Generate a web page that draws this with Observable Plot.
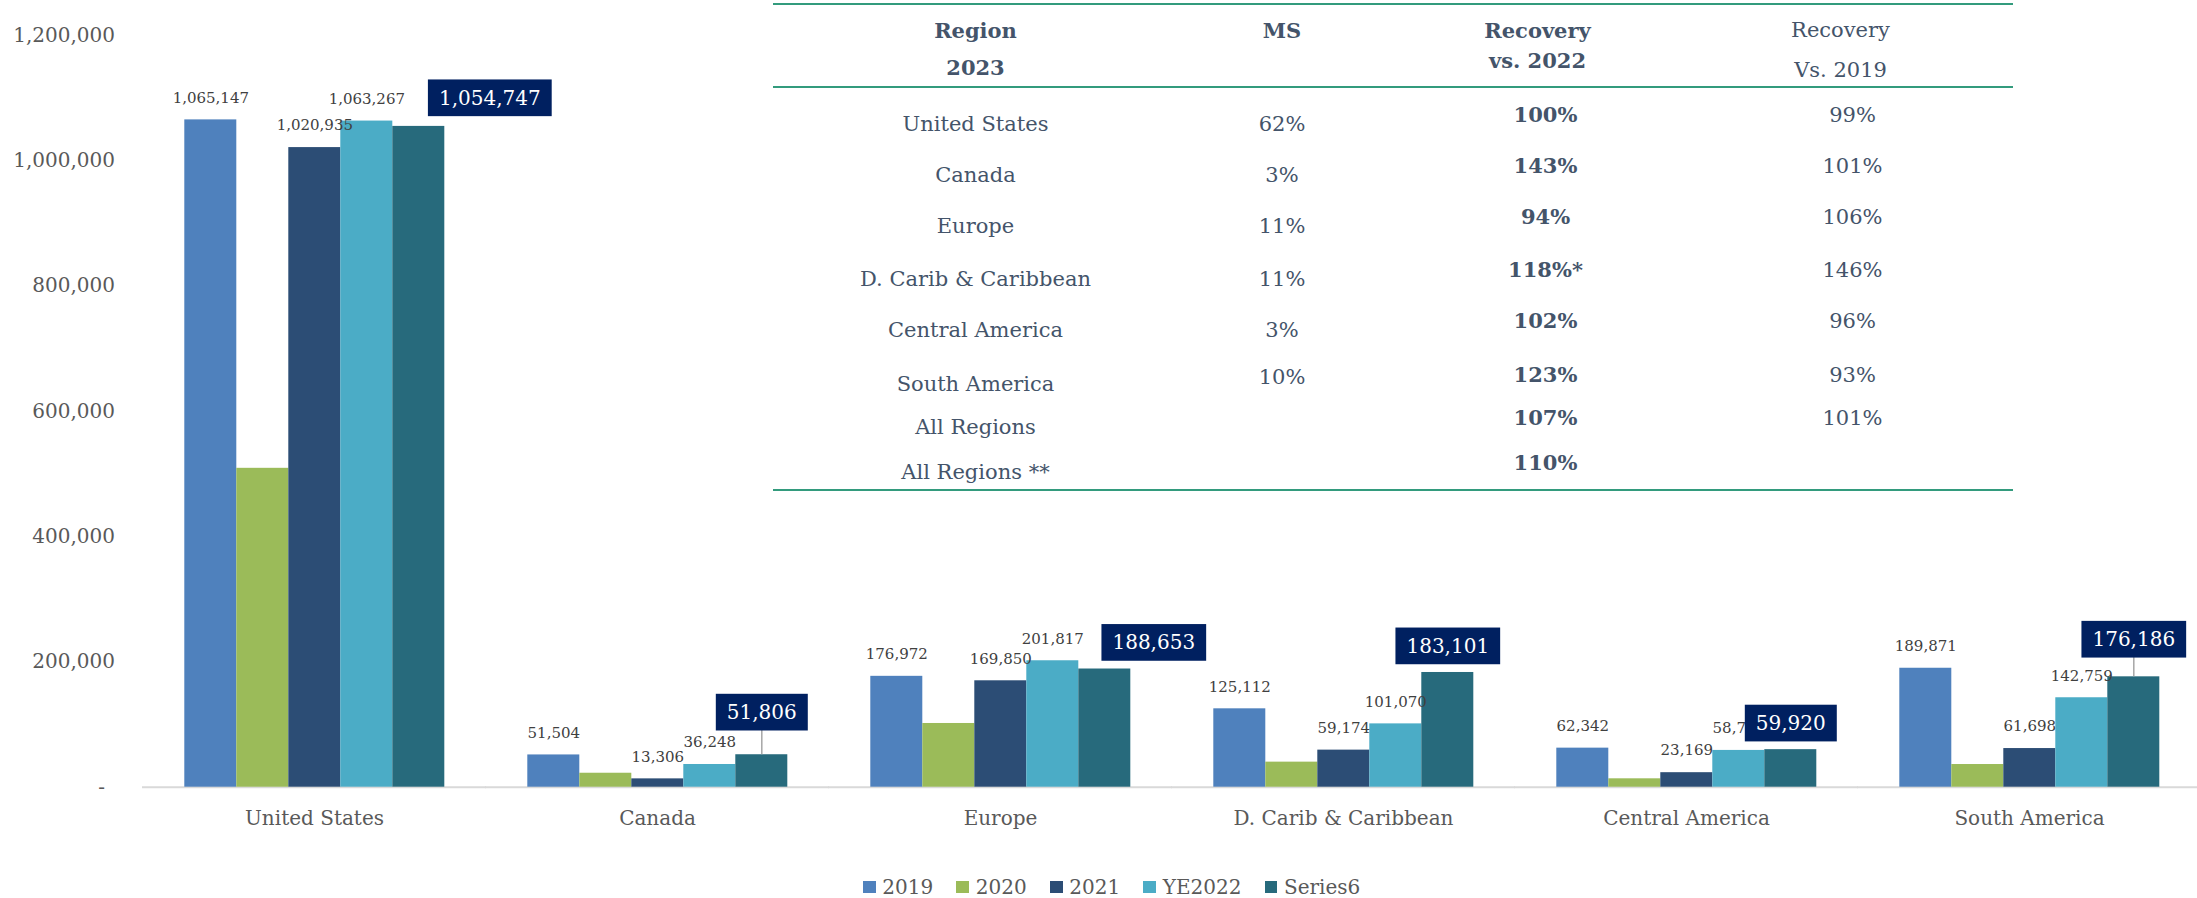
<!DOCTYPE html>
<html>
<head>
<meta charset="utf-8">
<script src="https://cdn.jsdelivr.net/npm/d3@7"></script>
<script src="https://cdn.jsdelivr.net/npm/@observablehq/plot@0.6"></script>
<style>
html,body{margin:0;padding:0;background:#fff;overflow:hidden;}
#wrap{position:relative;width:2197px;height:898px;overflow:hidden;background:#fff;}
#chart svg{display:block;}
#tbl{position:absolute;left:773px;top:3px;}
#tbl table{border-collapse:collapse;table-layout:fixed;width:1240px;font-family:'DejaVu Serif',serif;font-size:21px;color:#44546a;}
#tbl th{font-weight:bold;line-height:37px;padding:7px 0 0 0;vertical-align:top;text-align:center;border-top:2.4px solid #339b7d;border-bottom:2.4px solid #339b7d;}
#tbl th.norm{font-weight:normal;}
#tbl td{padding:0;vertical-align:top;line-height:30px;text-align:center;white-space:nowrap;}
#tbl tr:last-child td{border-bottom:2.4px solid #339b7d;}
#tbl .c3{padding-left:16px;padding-right:9px;font-weight:bold;}
#tbl .c4{padding-left:24px;padding-right:30px;}
#tbl th.c3{padding-left:0;}
#tbl th.c4{padding-left:0;}
#tbl .up{position:relative;top:-9px;}
#tbl .up7{position:relative;top:-7px;}
#tbl .dn3{position:relative;top:3px;}
#legend{display:flex;align-items:center;height:32px;margin-top:5px;padding-left:863px;font-family:'DejaVu Serif',serif;font-size:20px;color:#595959;}
#legend .sw{display:inline-block;width:12.7px;height:12.7px;margin-right:6.6px;}
#legend .it{display:flex;align-items:center;margin-right:23.3px;}
</style>
</head>
<body>
<div id="wrap">
  <div id="chart"></div>
  <div id="legend"></div>
  <div id="tbl"></div>
</div>
<script>
// ---------- chart data ----------
const regions = ["United States", "Canada", "Europe", "D. Carib & Caribbean", "Central America", "South America"];
const seriesNames = ["2019", "2020", "2021", "YE2022", "Series6"];
const v2019 = [1065147, 51504, 176972, 125112, 62342, 189871];
const v2020 = [509000, 22300, 101700, 40000, 13400, 36200];
const v2021 = [1020935, 13306, 169850, 59174, 23169, 61698];
const vYE2022 = [1063267, 36248, 201817, 101070, 58700, 142759];
const vSeries6 = [1054747, 51806, 188653, 183101, 59920, 176186];
const seriesColors = ["#4f81bd", "#9bbb59", "#2c4d75", "#4bacc6", "#276a7c"];
const yTicks = [0, 200000, 400000, 600000, 800000, 1000000, 1200000];
const labeledSeries = ["2019", "2021", "YE2022"];
const calloutSeries = "Series6";

// ---------- table data ----------
const tableHeader = [["Region", "2023"], ["MS", ""], ["Recovery", "vs. 2022"], ["Recovery", "Vs. 2019"]];
const tableRegions = ["United States", "Canada", "Europe", "D. Carib & Caribbean", "Central America", "South America", "All Regions", "All Regions **"];
const msShare = ["62%", "3%", "11%", "11%", "3%", "10%", "", ""];
const recVs2022 = ["100%", "143%", "94%", "118%*", "102%", "123%", "107%", "110%"];
const recVs2019 = ["99%", "101%", "106%", "146%", "96%", "93%", "101%", ""];

// ---------- layout (annotation nudges, row heights) ----------
const calloutDx = [71, 0, 49, 0, 0, 0];
const calloutDy = [-28, -42, -26, -26, -26, -37];
const calloutLeader = [false, true, false, false, false, true];
const rowHeights = [51, 51, 53, 51, 54, 43, 45, 32];

const seriesValues = [v2019, v2020, v2021, vYE2022, vSeries6];
const rows = regions.flatMap((r, i) => seriesNames.map((s, j) => ({region: r, series: s, value: seriesValues[j][i]})));
const fmt = d3.format(",");

const marks = [
  Plot.ruleY([0], {stroke: "#d9d9d9", strokeWidth: 2, insetLeft: -40, insetRight: -40}),
  Plot.barY(rows, {fx: "region", x: "series", y: "value", fill: "series", insetLeft: 0, insetRight: 0}),
  Plot.text(rows.filter(d => labeledSeries.includes(d.series)), {
    fx: "region", x: "series", y: "value", text: d => fmt(d.value),
    dy: -22, fontSize: 15, fill: "#404040", lineAnchor: "middle"
  })
];
regions.forEach((r, i) => {
  const d = rows.filter(e => e.region === r && e.series === calloutSeries);
  if (calloutLeader[i]) {
    marks.push(Plot.ruleX(d, {fx: "region", x: "series", y1: "value", y2: "value", insetTop: 0, insetBottom: -calloutDy[i], stroke: "#a6a6a6", strokeWidth: 1.5}));
  }
  marks.push(Plot.text(d, {
    fx: "region", x: "series", y: "value", text: e => fmt(e.value),
    dx: calloutDx[i], dy: calloutDy[i], fontSize: 20, fill: "#ffffff", lineAnchor: "middle",
    ariaDescription: "callout"
  }));
});
marks.push(Plot.axisY({ticks: yTicks, tickSize: 0, tickPadding: 67.5, tickFormat: d => d === 0 ? "-\u2002" : fmt(d), fontSize: 20, fill: "#595959", label: null}));
marks.push(Plot.axisFx({anchor: "bottom", tickSize: 0, tickPadding: 24, fontSize: 20, fill: "#595959", label: null}));

const svg = Plot.plot({
  width: 2202,
  height: 866,
  marginLeft: 141.7,
  marginRight: 0,
  marginTop: 34.9,
  marginBottom: 79.3,
  style: {fontFamily: "'DejaVu Serif', serif", maxWidth: "none", overflow: "visible", background: "#fff"},
  fx: {domain: regions, paddingInner: 0.231, paddingOuter: 0.1155, label: null},
  x: {domain: seriesNames, padding: 0, axis: null},
  y: {domain: [0, 1200000], label: null},
  color: {domain: seriesNames, range: seriesColors},
  marks
});
document.getElementById("chart").append(svg);

// boxes behind callout labels
const NS = "http://www.w3.org/2000/svg";
svg.querySelectorAll('g[aria-description="callout"] text').forEach(t => {
  const bb = t.getBBox();
  const cy = bb.y + bb.height / 2;
  const r = document.createElementNS(NS, "rect");
  r.setAttribute("x", bb.x - 11);
  r.setAttribute("width", bb.width + 22);
  r.setAttribute("y", cy - 18.35);
  r.setAttribute("height", 36.7);
  r.setAttribute("fill", "#002060");
  const tr = t.getAttribute("transform");
  if (tr) r.setAttribute("transform", tr);
  t.parentNode.insertBefore(r, t);
});

// legend
const legend = document.getElementById("legend");
seriesNames.forEach((s, i) => {
  const it = document.createElement("span");
  it.className = "it";
  const sw = document.createElement("span");
  sw.className = "sw";
  sw.style.background = seriesColors[i];
  it.append(sw, document.createTextNode(s));
  legend.append(it);
});

// table
const tbl = document.createElement("table");
const cg = document.createElement("colgroup");
[405, 208, 312, 315].forEach(w => { const c = document.createElement("col"); c.style.width = w + "px"; cg.append(c); });
tbl.append(cg);
const thead = document.createElement("thead");
const htr = document.createElement("tr");
tableHeader.forEach((h, j) => {
  const th = document.createElement("th");
  th.className = ["c1", "c2", "c3", "c4"][j] + (j === 3 ? " norm" : "");
  const l2cls = j === 2 ? "up7" : (j === 3 ? "dn3" : "");
  th.innerHTML = h[0] + "<br><span class='" + l2cls + "'>" + (h[1] || "&nbsp;") + "</span>";
  htr.append(th);
});
thead.append(htr);
tbl.append(thead);
const tbody = document.createElement("tbody");
const sp = document.createElement("tr");
const spd = document.createElement("td");
spd.colSpan = 4; spd.style.height = "21px";
sp.append(spd); tbody.append(sp);
tableRegions.forEach((r, i) => {
  const tr = document.createElement("tr");
  const cells = [r, msShare[i], recVs2022[i], recVs2019[i]];
  cells.forEach((c, j) => {
    const td = document.createElement("td");
    td.className = ["c1", "c2", "c3", "c4"][j];
    td.style.height = rowHeights[i] + "px";
    const span = document.createElement("span");
    span.textContent = c;
    if (j >= 2) span.className = "up";
    if (j === 1 && i === 5) span.className = "up7";
    td.append(span);
    tr.append(td);
  });
  tbody.append(tr);
});
tbl.append(tbody);
document.getElementById("tbl").append(tbl);
</script>
</body>
</html>
